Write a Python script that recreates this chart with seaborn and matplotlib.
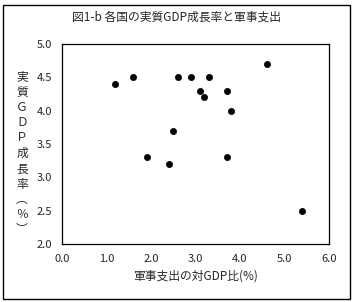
import matplotlib
matplotlib.use("Agg")
import matplotlib.pyplot as plt
import seaborn as sns
import pandas as pd
from matplotlib.patches import Rectangle

sns.set_style("white")
plt.rcParams['font.family'] = ['Noto Sans CJK JP', 'DejaVu Sans']

military = [1.2, 1.6, 1.9, 2.4, 2.5, 2.6, 2.9, 3.1, 3.2, 3.3, 3.7, 3.8, 3.7, 4.6, 5.4]
gdp_growth = [4.4, 4.5, 3.3, 3.2, 3.7, 4.5, 4.5, 4.3, 4.2, 4.5, 4.3, 4.0, 3.3, 4.7, 2.5]
x_ticks = [0.0, 1.0, 2.0, 3.0, 4.0, 5.0, 6.0]
y_ticks = [2.0, 2.5, 3.0, 3.5, 4.0, 4.5, 5.0]
title = "図1-b 各国の実質GDP成長率と軍事支出"
xlabel = "軍事支出の対GDP比(%)"
ylabel = "実質ＧＤＰ成長率︵％︶"

df = pd.DataFrame({"x": military, "y": gdp_growth})

fig = plt.figure(figsize=(3.54, 3.02), dpi=100)
ax = fig.add_axes([62/354, 1-244/302, 267/354, 200/302])
sns.scatterplot(data=df, x="x", y="y", ax=ax, color="black", s=20,
                edgecolor="black", linewidth=0.5, marker="o")
ax.set_xlim(0, 6)
ax.set_ylim(2, 5)
ax.set_xticks(x_ticks)
ax.set_xticklabels([f"{v:.1f}" for v in x_ticks], fontsize=8)
ax.set_yticks(y_ticks)
ax.set_yticklabels([f"{v:.1f}" for v in y_ticks], fontsize=8)
ax.tick_params(axis="x", direction="in", length=4, width=0.8, color="black", pad=7)
ax.tick_params(axis="y", direction="out", length=4, width=0.8, color="black", pad=3)
for sp in ax.spines.values():
    sp.set_color("black")
    sp.set_linewidth(0.9)
ax.set_xlabel(xlabel, fontsize=8.5, labelpad=4)
ax.set_ylabel("")

fig.text(177/354, 1-17/302, title, ha="center", va="center", fontsize=8.5)
fig.text(22/354, 1-153.5/302, "\n".join(ylabel), ha="center", va="center",
         fontsize=8.5, linespacing=1.23)

fig.patches.append(Rectangle((3/354, 3/302), 347/354, 294/302, transform=fig.transFigure,
                             fill=False, edgecolor="black", linewidth=1.0))

fig.savefig("out.png", dpi=100)
